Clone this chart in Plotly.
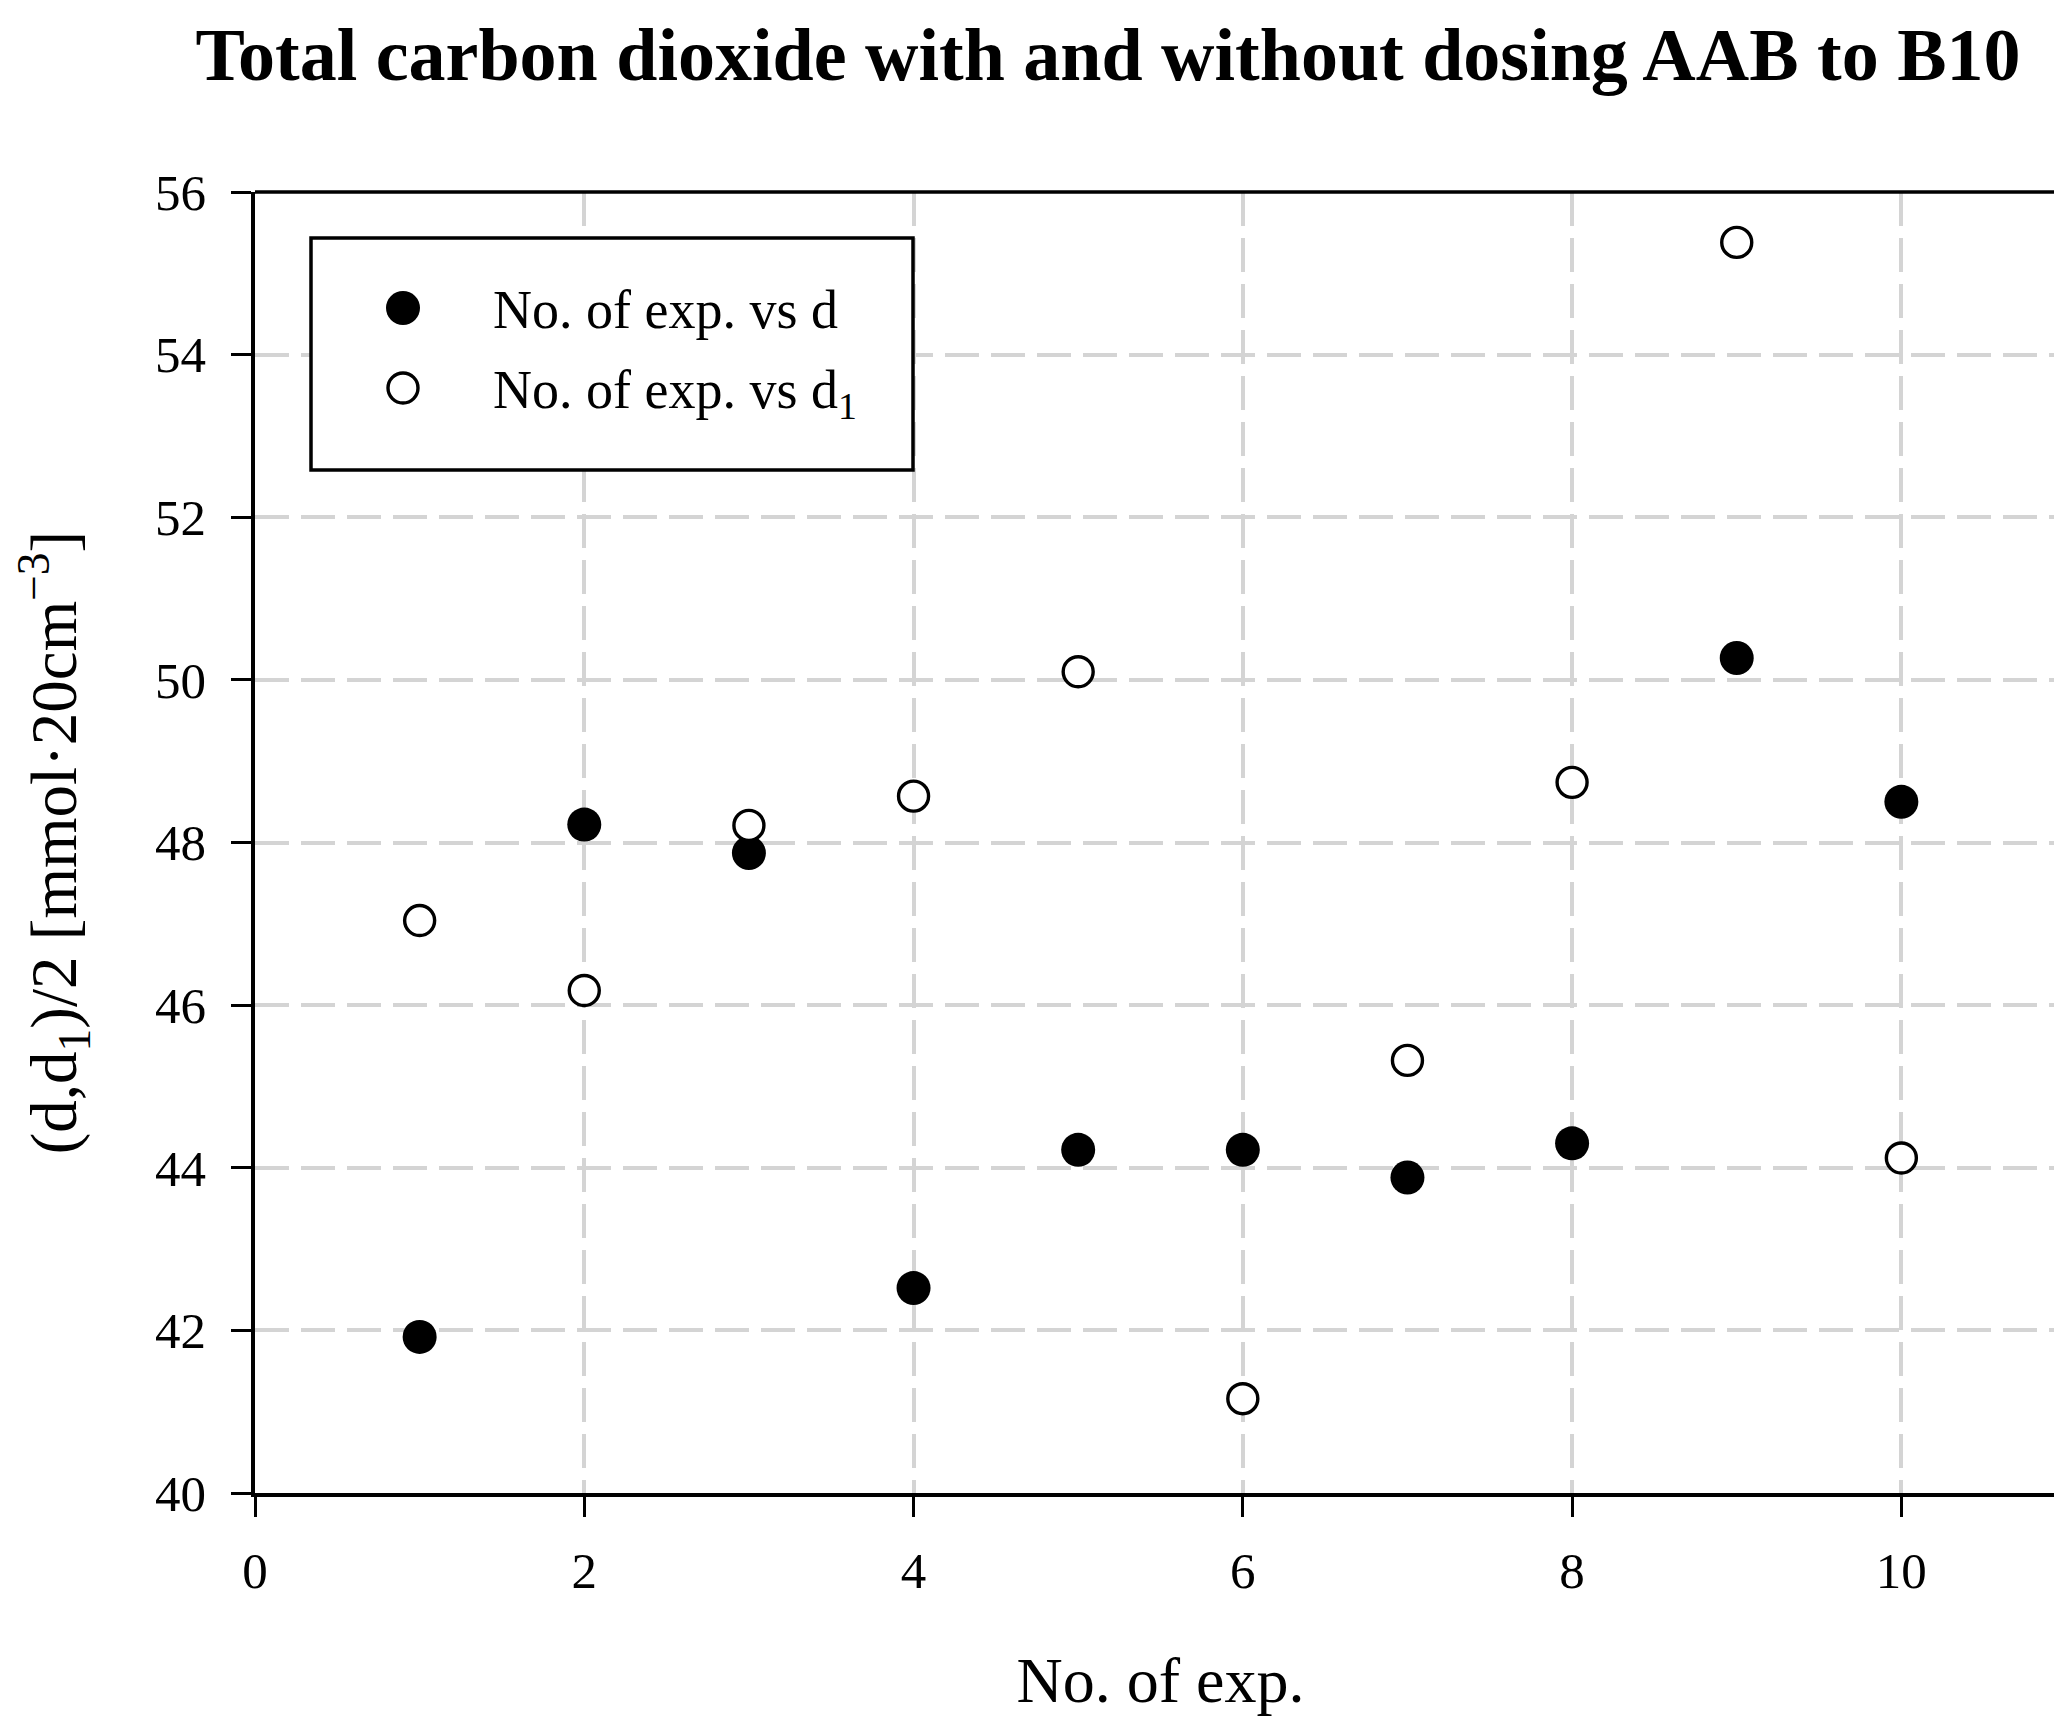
import plotly.graph_objects as go

# ---- data ----
exp_no = [1, 2, 3, 4, 5, 6, 7, 8, 9, 10]
d_vals = [41.92, 48.22, 47.87, 42.52, 44.22, 44.22, 43.88, 44.30, 50.27, 48.50]
d1_vals = [47.04, 46.18, 48.21, 48.57, 50.10, 41.16, 45.32, 48.74, 55.38, 44.12]
x_ticks = [0, 2, 4, 6, 8, 10]
y_ticks = [40, 42, 44, 46, 48, 50, 52, 54, 56]
title_text = "Total carbon dioxide with and without dosing AAB to B10"
x_title = "No. of exp."
y_title = "(d,d<sub>1</sub>)/2 [mmol·20cm<sup>−3</sup>]"
names = ["No. of exp. vs d", "No. of exp. vs d<sub>1</sub>"]

# ---- layout geometry (pixels) ----
W, H = 2062, 1735
ML, MR, MT, MB = 247, 4, 184, 250
PW, PH = W - ML - MR, H - MT - MB
FONT = "Liberation Serif"


def px2x(px):
    return (px - ML) / PW


def px2y(py):
    return (H - MB - py) / PH


fig = go.Figure()
fig.add_trace(go.Scatter(
    x=exp_no, y=d_vals, mode="markers", name=names[0], showlegend=False,
    marker=dict(symbol="circle", size=34, color="black", line=dict(width=0)),
))
fig.add_trace(go.Scatter(
    x=exp_no, y=d1_vals, mode="markers", name=names[1], showlegend=False,
    marker=dict(symbol="circle", size=30, color="white",
                line=dict(width=3.4, color="black")),
))

grid = dict(showgrid=True, gridcolor="#d4d4d4", gridwidth=3.5, griddash="34px,12px")
fig.update_xaxes(
    range=[0, 11], tickvals=x_ticks, ticktext=[str(v) for v in x_ticks],
    showline=True, linecolor="black", linewidth=3.5,
    ticks="outside", ticklen=20, tickwidth=3.3, tickcolor="black",
    tickfont=dict(family=FONT, size=51, color="black"),
    ticklabelstandoff=10,
    zeroline=False,
    title=dict(text=x_title, font=dict(family=FONT, size=64, color="black"), standoff=60),
    **grid,
)
fig.update_yaxes(
    range=[40, 56], tickvals=y_ticks, ticktext=[str(v) for v in y_ticks],
    showline=True, linecolor="black", linewidth=3.5,
    ticks="outside", ticklen=20, tickwidth=3.3, tickcolor="black",
    tickfont=dict(family=FONT, size=51, color="black"),
    ticklabelstandoff=15,
    zeroline=False,
    title=dict(text=y_title, font=dict(family=FONT, size=65, color="black"), standoff=62),
    **grid,
)

# legend drawn by hand: box, symbols, labels
LEG_SYM_X = 395
LEG_ROWS_Y = [300, 380]
LEG_TEXT_X = 483
LEG_TEXT_Y = [302, 385]

shapes = [
    dict(type="line", xref="paper", yref="paper", x0=0, x1=1, y0=1, y1=1,
         line=dict(color="black", width=3.5), layer="above"),
    dict(type="line", xref="paper", yref="paper", x0=1, x1=1, y0=0, y1=1,
         line=dict(color="black", width=2), layer="above"),
    dict(type="rect", xref="paper", yref="paper",
         x0=px2x(303), x1=px2x(905), y0=px2y(462), y1=px2y(230),
         line=dict(color="black", width=3.5), fillcolor="white", layer="above"),
    dict(type="circle", xref="paper", yref="paper",
         xsizemode="pixel", ysizemode="pixel",
         xanchor=px2x(LEG_SYM_X), yanchor=px2y(LEG_ROWS_Y[0]),
         x0=-17, x1=17, y0=-17, y1=17,
         fillcolor="black", line=dict(width=0), layer="above"),
    dict(type="circle", xref="paper", yref="paper",
         xsizemode="pixel", ysizemode="pixel",
         xanchor=px2x(LEG_SYM_X), yanchor=px2y(LEG_ROWS_Y[1]),
         x0=-15, x1=15, y0=-15, y1=15,
         fillcolor="white", line=dict(width=3.4, color="black"), layer="above"),
]

annotations = [
    dict(text=names[i], xref="paper", yref="paper",
         x=px2x(LEG_TEXT_X), y=px2y(LEG_TEXT_Y[i]), xanchor="left", yanchor="middle",
         showarrow=False, font=dict(family=FONT, size=54, color="black"))
    for i in range(2)
]

fig.update_layout(
    width=W, height=H, autosize=False,
    margin=dict(l=ML, r=MR, t=MT, b=MB, pad=0),
    paper_bgcolor="white", plot_bgcolor="white",
    font=dict(family=FONT, color="black"),
    title=dict(text=title_text, xref="container", yref="container",
               x=1100 / W, xanchor="center", y=1 - 46 / H, yanchor="middle",
               font=dict(family=FONT, size=74, color="black", weight="bold")),
    shapes=shapes,
    annotations=annotations,
    showlegend=False,
)

fig.write_html("out.html")
